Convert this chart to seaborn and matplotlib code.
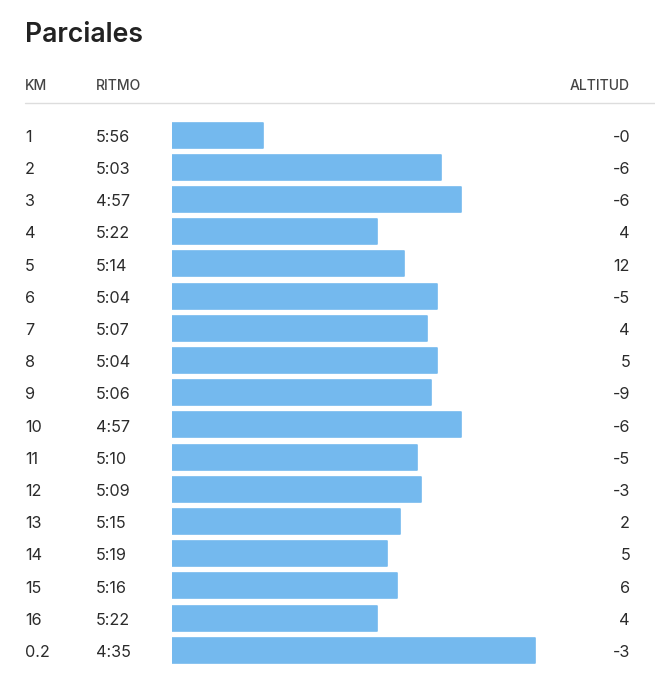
import matplotlib
matplotlib.use("Agg")
import matplotlib.pyplot as plt
import matplotlib.transforms as mtransforms
import pandas as pd
import seaborn as sns

sns.set_style("white")
plt.rcParams["font.family"] = ["Inter", "DejaVu Sans"]

# split data
km = ["1", "2", "3", "4", "5", "6", "7", "8", "9", "10",
      "11", "12", "13", "14", "15", "16", "0.2"]
ritmo = ["5:56", "5:03", "4:57", "5:22", "5:14", "5:04", "5:07", "5:04", "5:06",
         "4:57", "5:10", "5:09", "5:15", "5:19", "5:16", "5:22", "4:35"]
altitud = ["-0", "-6", "-6", "4", "12", "-5", "4", "5", "-9",
           "-6", "-5", "-3", "2", "5", "6", "4", "-3"]

BASE_SEC = 383  # pace at which a bar would have zero length


def pace_to_sec(p):
    m, s = p.split(":")
    return int(m) * 60 + int(s)


df = pd.DataFrame({"km": km, "ritmo": ritmo, "altitud": altitud})
df["bar"] = [BASE_SEC - pace_to_sec(p) for p in df["ritmo"]]

W, H = 655, 680
fig = plt.figure(figsize=(W / 100, H / 100), dpi=100)

row_h = 32.2
top = 135 - row_h / 2
n = len(df)
ax = fig.add_axes([172 / W, 1 - (top + n * row_h) / H, (W - 172) / W, n * row_h / H])
sns.barplot(data=df, x="bar", y="km", orient="h", color="#74B9EE", saturation=1,
            width=25 / row_h, ax=ax, edgecolor="#74B9EE", linewidth=1.2)
for p in ax.patches:
    p.set_joinstyle("round")
ax.set_xlim(0, (W - 172) / 3.36)
ax.set_ylim(n - 0.5, -0.5)
ax.axis("off")

trans = mtransforms.blended_transform_factory(fig.transFigure, ax.transData)
txt = "#2b2b2b"
dy = 0.07  # nudge text down to sit level with the bars
for i, row in df.iterrows():
    ax.text(25 / W, i + dy, row["km"], transform=trans, ha="left", va="center",
            fontsize=11.7, color=txt)
    ax.text(96 / W, i + dy, row["ritmo"], transform=trans, ha="left", va="center",
            fontsize=11.7, color=txt)
    ax.text(630 / W, i + dy, row["altitud"], transform=trans, ha="right", va="center",
            fontsize=11.7, color=txt)

# title, header and separator
fig.text(25 / W, 1 - 35 / H, "Parciales", ha="left", va="center",
         fontsize=19.2, fontweight="semibold", color="#222222")
hdr = "#444444"
for x, label, ha in [(25, "KM", "left"), (96, "RITMO", "left"), (630, "ALTITUD", "right")]:
    fig.text(x / W, 1 - 86 / H, label, ha=ha, va="center", fontsize=10,
             fontweight="medium", color=hdr)
fig.add_artist(plt.Line2D([25 / W, 1], [1 - 103 / H, 1 - 103 / H],
                          transform=fig.transFigure, color="#dddddd", linewidth=1))

fig.savefig("out.png", dpi=100)
